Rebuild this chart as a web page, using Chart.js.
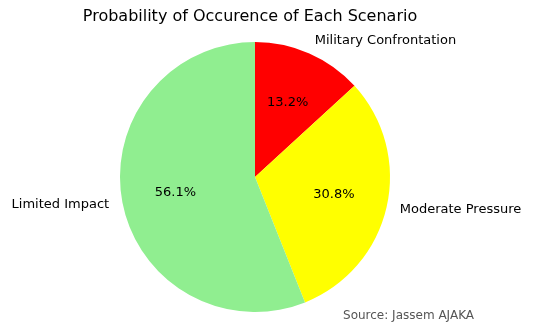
<!DOCTYPE html>
<html>
<head>
<meta charset="utf-8">
<script src="https://cdn.jsdelivr.net/npm/chart.js@4"></script>
<style>
  body{margin:0;background:#fff;}
  #wrap{width:533px;height:335px;position:relative;}
</style>
</head>
<body>
<div id="wrap"><canvas id="pieChart"></canvas></div>
<script>
// scenario shares, in percent
var scenarios=['Military Confrontation','Moderate Pressure','Limited Impact'];
var shares=[13.2,30.8,56.1];
var sliceColors=['#ff0000','#ffff00','#90ee90'];
var titleText='Probability of Occurence of Each Scenario';
var sourceText='Source: Jassem AJAKA';

var FONT='"DejaVu Sans", sans-serif';

// title, names outside the pie, percentages inside (like matplotlib autopct)
const sliceLabels={
    id:'sliceLabels',
    afterDatasetsDraw(chart){
        const ctx=chart.ctx;
        const meta=chart.getDatasetMeta(0);
        ctx.save();
        ctx.textBaseline='middle';
        ctx.fillStyle='#000';
        ctx.font='16px '+FONT;
        ctx.textAlign='center';
        ctx.fillText(titleText,250,17);
        meta.data.forEach(function(arc,i){
            const p=arc.getProps(['x','y','startAngle','endAngle','outerRadius'],true);
            const mid=(p.startAngle+p.endAngle)/2;
            const c=Math.cos(mid), s=Math.sin(mid);
            ctx.font='13px '+FONT;
            ctx.textAlign=c>0?'left':'right';
            ctx.fillText(scenarios[i],p.x+c*p.outerRadius*1.1,p.y+s*p.outerRadius*1.1);
            ctx.textAlign='center';
            ctx.fillText(shares[i].toFixed(1)+'%',p.x+c*p.outerRadius*0.6,p.y+s*p.outerRadius*0.6);
        });
        // source note
        ctx.font='12px '+FONT;
        ctx.fillStyle='#555555';
        ctx.textAlign='right';
        ctx.fillText(sourceText,474,316);
        ctx.restore();
    }
};

new Chart(document.getElementById('pieChart'),{
    type:'pie',
    data:{
        labels:scenarios,
        datasets:[{
            data:shares,
            backgroundColor:sliceColors,
            borderWidth:0
        }]
    },
    options:{
        responsive:true,
        maintainAspectRatio:false,
        animation:false,
        layout:{padding:{top:42,bottom:23,left:120,right:143}},
        plugins:{
            legend:{display:false},
            tooltip:{enabled:false},
            title:{display:false}
        }
    },
    plugins:[sliceLabels]
});
</script>
</body>
</html>
